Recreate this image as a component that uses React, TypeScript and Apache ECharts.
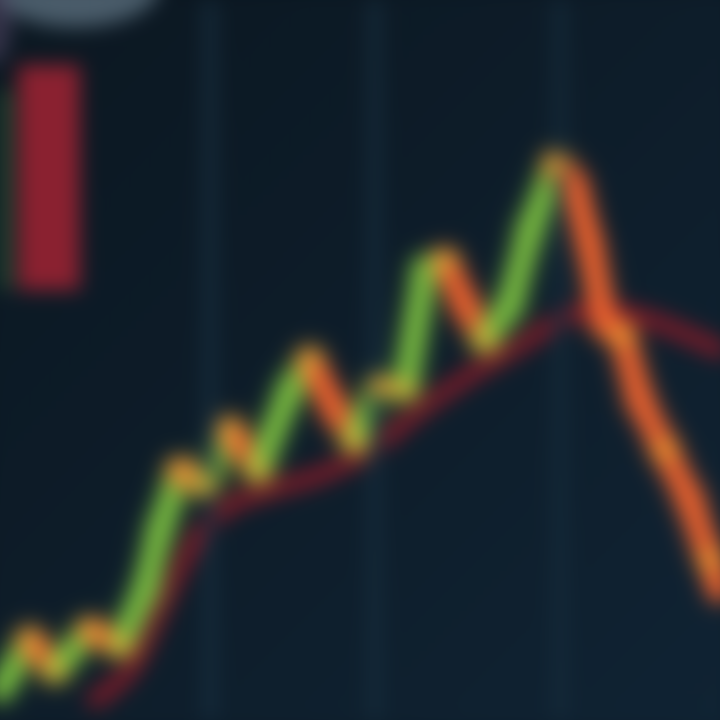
import React, { useEffect, useRef } from "react";
import * as echarts from "echarts";

// Main price path (x = time unit, y = price)
const priceX = [0, 3, 5.5, 9, 12, 14.5, 16, 18, 20.5, 23, 25.8, 29, 31, 33.5, 35.5, 38, 40.5, 42.5, 44.5, 46.5, 48.5, 51, 53, 55.6, 57.4, 59, 60.5, 62.2, 64, 66.5, 69, 71, 72];
const priceY = [3, 8, 5, 9, 7.5, 13, 19, 25, 23.5, 29, 25, 33, 36, 31, 28, 33.5, 33, 45, 46, 41.5, 38, 41.5, 49, 55.6, 53.5, 47.5, 39.5, 38.5, 32, 27, 22, 16, 13];
// Indices of extra bright (amber) spots on the falling leg
const amberIdx = [27, 29, 31];

// Moving average path
const maX = [9.5, 13, 16, 19.5, 23, 27, 32, 37, 42, 47, 52, 56, 60, 65, 72];
const maY = [2, 5, 11, 18, 21.5, 23, 24.5, 27, 31, 34.5, 37.5, 40, 41, 40, 37];

// Order-book style blocks at top left: [x0, y0, x1, y1]
const blockRed = [1.8, 65.5, 8, 43];
const blockGreen = [0, 63, 1.1, 43];

// Brighter vertical guide lines
const guideX = [21, 37.5, 56];

export default function App() {
  const ref = useRef<HTMLDivElement>(null);
  useEffect(() => {
    document.body.style.margin = "0";
    document.body.style.background = "#0b1721";
    const chart = echarts.init(ref.current!, undefined, { renderer: "svg" });
    const up = "#78bb3f";
    const down = "#ec622e";
    const segs: any[] = priceX.slice(0, -1).map((x, i) => {
      const rising = priceY[i + 1] > priceY[i];
      const c = rising ? up : down;
      return {
        type: "line",
        data: [[x, priceY[i]], [priceX[i + 1], priceY[i + 1]]],
        symbol: "none",
        silent: true,
        z: 4,
        lineStyle: { width: 21, color: c, cap: "round", shadowBlur: 16, shadowColor: c },
      };
    });
    const turns: any[] = [];
    for (let i = 1; i < priceX.length - 1; i++) {
      const isMin = priceY[i] < priceY[i - 1] && priceY[i] < priceY[i + 1];
      const isMax = priceY[i] > priceY[i - 1] && priceY[i] > priceY[i + 1];
      if (isMin || isMax) {
        turns.push({
          value: [priceX[i], priceY[i]],
          itemStyle: { color: isMin ? "#e6c03a" : "#d9a83a", opacity: 0.7 },
        });
      } else if (amberIdx.includes(i)) {
        turns.push({
          value: [priceX[i], priceY[i]],
          itemStyle: { color: "#f2a030", opacity: 0.75 },
        });
      }
    }
    chart.setOption({
      animation: false,
      backgroundColor: {
        type: "linear", x: 0, y: 0, x2: 1, y2: 1,
        colorStops: [
          { offset: 0, color: "#0a151e" },
          { offset: 1, color: "#0f2232" },
        ],
      },
      grid: { left: 20, right: 20, top: 20, bottom: 20 },
      xAxis: {
        type: "value", min: 0, max: 72, interval: 2,
        axisLine: { show: false }, axisTick: { show: false }, axisLabel: { show: false },
        splitLine: { show: true, lineStyle: { color: "rgba(40,70,95,0.35)", width: 2 } },
      },
      yAxis: {
        type: "value", min: 0, max: 72,
        axisLine: { show: false }, axisTick: { show: false }, axisLabel: { show: false },
        splitLine: { show: false },
      },
      graphic: [
        {
          type: "ellipse", shape: { cx: 95, cy: 5, rx: 85, ry: 42 },
          style: { fill: "rgba(125,150,165,0.55)" }, z: 1,
        },
        {
          type: "ellipse", shape: { cx: 12, cy: 40, rx: 20, ry: 45 },
          style: { fill: "rgba(80,70,100,0.6)" }, z: 1,
        },
      ],
      series: [
        {
          type: "line",
          data: maX.map((x, i) => [x, maY[i]]),
          symbol: "none",
          smooth: 0.3,
          silent: true,
          z: 2,
          lineStyle: { width: 14, color: "#7a1e2a", cap: "round", shadowBlur: 12, shadowColor: "#6a1a24" },
          markLine: {
            silent: true, symbol: "none", label: { show: false },
            lineStyle: { color: "#172e3e", width: 10, type: "solid" },
            data: guideX.map((x) => ({ xAxis: x })),
          },
          markArea: {
            silent: true,
            data: [
              [
                { coord: [blockRed[0], blockRed[1]], itemStyle: { color: "#8a2130" } },
                { coord: [blockRed[2], blockRed[3]] },
              ],
              [
                { coord: [blockGreen[0], blockGreen[1]], itemStyle: { color: "#284e32" } },
                { coord: [blockGreen[2], blockGreen[3]] },
              ],
            ],
          },
        },
        ...segs,
        {
          type: "scatter",
          data: turns,
          symbolSize: 18,
          silent: true,
          z: 5,
          itemStyle: { shadowBlur: 12, shadowColor: "#e0a830" },
        },
      ],
    });
    return () => chart.dispose();
  }, []);
  return (
    <div style={{ position: "fixed", left: 0, top: 0, width: 720, height: 720, overflow: "hidden", background: "#0b1721" }}>
      <div
        ref={ref}
        style={{ position: "absolute", left: -20, top: -20, width: 760, height: 760, filter: "blur(10px)" }}
      />
    </div>
  );
}
